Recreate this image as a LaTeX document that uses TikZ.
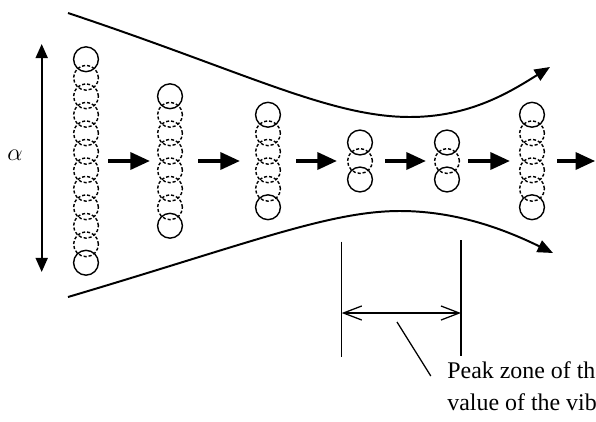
\documentclass[tikz,border=0pt]{standalone}
\usepackage{fontspec}
\setmainfont{Liberation Serif}
\usetikzlibrary{arrows.meta}

\begin{document}
\begin{tikzpicture}[x=0.025cm,y=-0.025cm,line width=1pt,
 ring/.style={line width=1pt},
 ghost/.style={line width=1pt,dash pattern=on 2.2pt off 1.4pt},
 fatarrow/.style={line width=2.8pt,-{Triangle[length=14pt,width=12pt]}},
 flow/.style={line width=1.4pt,-{Triangle[length=11pt,width=9pt]}},
 span/.style={line width=1.4pt,{Triangle[length=10pt,width=8.5pt]}-{Triangle[length=10pt,width=8.5pt]}},
 dim/.style={line width=0.9pt},
 label/.style={font=\fontsize{17}{22}\selectfont}]
 \useasboundingbox (0,0) rectangle (596,421);
 \clip (0,0) rectangle (596,421);
 % height of the stream
 \coordinate (aTop) at (41.7,44);
 \coordinate (aBot) at (41.7,272);
 \draw[span] (aTop)--(aBot);
 \node[label] (alpha) at (15,155) {$\alpha$};
 % boundaries of the stream
 \coordinate (t0) at (68,13);
 \coordinate (tm) at (410,117);
 \coordinate (t1) at (550,67);
 \draw[flow] (t0) .. controls (245,72) and (330,117) .. (tm) .. controls (470,117) and (510,92) .. (t1);
 \coordinate (b0) at (68,297);
 \coordinate (bm) at (400,211);
 \coordinate (b1) at (553,253);
 \draw[flow] (b0) .. controls (250,243) and (330,211) .. (bm) .. controls (460,211) and (510,232) .. (b1);
 % columns of particles
 \foreach \x/\n/\c in {86/11/1,170/7/2,268/5/3,360/2/4,447/2/5,532/5/6}{%
   \coordinate (c\c) at (\x,161);
   \pgfmathtruncatemacro\m{\n-1}
   \foreach \k in {1,...,\m}
     \draw[ghost] (\x,161-\n*9.25+\k*18.5) circle[radius=0.31cm];
   \draw[ring] (\x,161-\n*9.25) circle[radius=0.31cm];
   \draw[ring] (\x,161+\n*9.25) circle[radius=0.31cm];
 }
 \coordinate (out) at (596,161);
 \foreach \a/\b/\s/\e in {c1/c2/0.55/0.5,c2/c3/0.7/0.7,c3/c4/0.7/0.575,c4/c5/0.625/0.525,c5/c6/0.525/0.55,c6/out/0.625/0.02}
   \draw[fatarrow,shorten <=\s cm,shorten >=\e cm] (\a)--(\b);
 % peak zone
 \coordinate (dl1) at (341.7,241.7);
 \coordinate (dl2) at (341.7,356.7);
 \coordinate (dr1) at (461,240);
 \coordinate (dr2) at (461,356);
 \draw[dim] (dl1)--(dl2) (dr1)--(dr2);
 \coordinate (pl) at (341.7,313);
 \coordinate (pr) at (461,313);
 \draw[dim,{Straight Barb[length=13pt,width=10pt]}-{Straight Barb[length=13pt,width=10pt]}] (pl)--(pr);
 \node[label,anchor=base west] (peak1) at (442,378) {Peak zone of the};
 \node[label,anchor=base west] (peak2) at (442,410) {value of the vib};
 \coordinate (lead) at (397,322);
 \draw[dim] (lead)--([xshift=-0.28cm,yshift=0.05cm]peak1.base west);
\end{tikzpicture}
\end{document}
